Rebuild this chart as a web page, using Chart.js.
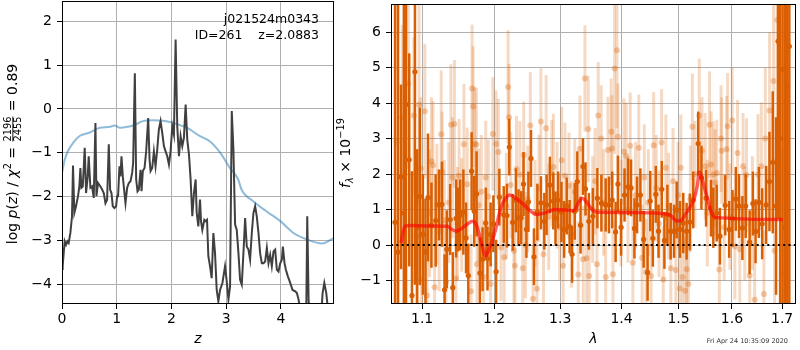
<!DOCTYPE html>
<html>
<head>
<meta charset="utf-8">
<title>j021524m0343 ID 261</title>
<script src="https://cdn.jsdelivr.net/npm/chart.js@4.4.0/dist/chart.umd.min.js"></script>
<style>
  html, body { margin: 0; padding: 0; background: #fff; }
  #wrap { position: relative; width: 800px; height: 350px; overflow: hidden; }
  #pzChart { position: absolute; left: 0; top: 0; }
  #specChart { position: absolute; left: 335px; top: 0; }
</style>
</head>
<body>
<div id="wrap">
  <canvas id="pzChart" width="335" height="350"></canvas>
  <canvas id="specChart" width="465" height="350"></canvas>
</div>
<script>
// ---- p(z) panel ----
var zPz = [0.00, 0.012, 0.031, 0.049, 0.073, 0.098, 0.122, 0.153, 0.183, 0.201,
    0.226, 0.256, 0.293, 0.317, 0.336, 0.354, 0.379, 0.397, 0.415, 0.440,
    0.470, 0.488, 0.519, 0.549, 0.580, 0.611, 0.629, 0.659, 0.702, 0.733,
    0.763, 0.794, 0.824, 0.855, 0.879, 0.904, 0.928, 0.958, 0.989, 1.007,
    1.025, 1.050, 1.068, 1.087, 1.111, 1.129, 1.160, 1.190, 1.221, 1.252,
    1.282, 1.300, 1.331, 1.355, 1.380, 1.404, 1.435, 1.453, 1.477, 1.508,
    1.538, 1.575, 1.600, 1.618, 1.648, 1.679, 1.709, 1.740, 1.770, 1.801,
    1.832, 1.862, 1.893, 1.923, 1.954, 1.984, 2.015, 2.045, 2.076, 2.106,
    2.137, 2.167, 2.198, 2.228, 2.259, 2.289, 2.320, 2.350, 2.381, 2.411,
    2.442, 2.461, 2.491, 2.522, 2.540, 2.564, 2.601, 2.625, 2.650, 2.674,
    2.705, 2.735, 2.766, 2.796, 2.827, 2.857, 2.888, 2.931, 2.979, 3.010,
    3.041, 3.071, 3.102, 3.132, 3.163, 3.193, 3.224, 3.254, 3.285, 3.315,
    3.346, 3.376, 3.407, 3.437, 3.468, 3.498, 3.529, 3.559, 3.590, 3.620,
    3.651, 3.682, 3.712, 3.743, 3.773, 3.804, 3.834, 3.865, 3.895, 3.926,
    3.956, 3.987, 4.017, 4.036, 4.066, 4.091, 4.127, 4.170, 4.213, 4.262,
    4.292, 4.323, 4.371, 4.432, 4.463, 4.481, 4.506, 4.536, 4.628, 4.719,
    4.762, 4.793, 4.829, 4.872, 4.970];
var logPz = [-3.65, -3.59, -3.29, -3.02, -3.10, -3.02, -3.06, -2.83, -2.45, -1.29,
    -2.37, -2.22, -1.99, -1.77, -1.35, -1.80, -1.77, -1.35, -0.89, -1.92,
    -1.54, -1.08, -1.80, -1.77, -2.03, -0.32, -1.99, -1.69, -1.77, -1.84,
    -1.92, -2.15, -2.07, -0.81, -1.84, -1.92, -2.22, -2.26, -2.22, -1.99,
    -1.99, -1.31, -1.54, -1.08, -1.54, -1.77, -2.15, -1.80, -1.69, -1.65,
    -1.46, -1.23, 0.81, -1.61, -1.88, -1.84, -1.39, -1.88, -1.42, -1.35,
    -0.97, -0.21, -1.16, -1.42, -1.35, -0.97, -1.31, -0.93, -0.47, -0.28,
    -0.55, -0.85, -0.97, -1.08, -1.27, -0.97, -0.40, -0.59, 1.58, -0.40,
    -1.08, -0.62, -0.85, -0.66, 0.10, -0.70, -1.04, -1.61, -2.45, -1.92,
    -1.61, -2.37, -2.68, -2.07, -2.56, -2.76, -2.53, -2.56, -2.53, -3.36,
    -3.59, -3.86, -2.83, -3.29, -4.13, -4.39, -4.13, -3.97, -3.59, -3.93,
    -4.35, -4.05, -0.05, -0.93, -2.64, -2.76, -3.29, -3.90, -4.01, -3.29,
    -2.49, -3.14, -3.21, -3.44, -2.83, -2.37, -2.22, -2.45, -2.83, -3.29,
    -3.52, -3.52, -3.48, -3.17, -3.52, -3.33, -3.59, -3.25, -3.21, -3.67,
    -3.71, -3.52, -3.44, -3.14, -3.52, -3.67, -3.82, -3.97, -4.13, -4.16,
    -4.20, -4.35, -4.73, -4.81, -4.66, -2.45, -4.35, -5.11, -5.50, -5.04,
    -4.20, -3.97, -4.20, -4.73, -5.10];
// scaled chi2 curve
var zChi = [0.00, 0.05, 0.11, 0.20, 0.32, 0.51, 0.69, 0.87, 0.96, 1.06,
    1.20, 1.30, 1.48, 1.67, 1.85, 2.03, 2.28, 2.52, 2.70, 2.89,
    3.07, 3.22, 3.28, 3.50, 3.74, 3.99, 4.23, 4.48, 4.75, 4.97];
var chiCurve = [-1.46, -1.16, -0.96, -0.78, -0.62, -0.54, -0.43, -0.41, -0.38, -0.43,
    -0.41, -0.38, -0.28, -0.26, -0.27, -0.32, -0.43, -0.62, -0.74, -1.00,
    -1.35, -1.61, -1.84, -2.11, -2.34, -2.56, -2.83, -2.98, -3.07, -2.94];
var zTicks = [0, 1, 2, 3, 4];
var pzTicks = [-4, -3, -2, -1, 0, 1, 2];

// ---- 1D spectrum panel ----
// first beam (dark)
var waveA = [1.0646, 1.0685, 1.0723, 1.0760, 1.0788, 1.0830, 1.0866, 1.0905, 1.0935, 1.0969,
    1.1010, 1.1045, 1.1079, 1.1125, 1.1182, 1.1227, 1.1267, 1.1303, 1.1334, 1.1380,
    1.1416, 1.1463, 1.1490, 1.1518, 1.1563, 1.1600, 1.1632, 1.1679, 1.1716, 1.1749,
    1.1796, 1.1834, 1.1881, 1.1905, 1.1950, 1.1990, 1.2030, 1.2077, 1.2141, 1.2189,
    1.2223, 1.2273, 1.2321, 1.2360, 1.2400, 1.2435, 1.2479, 1.2509, 1.2548, 1.2593,
    1.2645, 1.2700, 1.2752, 1.2787, 1.2838, 1.2891, 1.2925, 1.2967, 1.3019, 1.3061,
    1.3102, 1.3148, 1.3187, 1.3230, 1.3271, 1.3323, 1.3362, 1.3403, 1.3458, 1.3523,
    1.3597, 1.3663, 1.3734, 1.3789, 1.3843, 1.3900, 1.3939, 1.3993, 1.4051, 1.4111,
    1.4162, 1.4220, 1.4265, 1.4323, 1.4379, 1.4448, 1.4495, 1.4540, 1.4592, 1.4640,
    1.4698, 1.4745, 1.4798, 1.4857, 1.4918, 1.4965, 1.5026, 1.5085, 1.5146, 1.5206,
    1.5267, 1.5360, 1.5420, 1.5507, 1.5599, 1.5643, 1.5707, 1.5769, 1.5870, 1.5946,
    1.6010, 1.6074, 1.6137, 1.6203, 1.6268, 1.6345, 1.6410, 1.6463, 1.6529, 1.6595,
    1.6675, 1.6742, 1.6809, 1.6876, 1.6917, 1.6960, 1.7010, 1.7060, 1.7101, 1.7149];
var fluxA = [0.64, -0.20, 1.92, 0.90, 3.96, 2.40, -1.42, 4.88, 0.50, 1.37,
    0.30, -0.19, 1.34, 0.56, 0.69, 1.13, 1.15, -1.26, -0.12, 0.72,
    -1.20, 0.75, 0.72, 0.85, 0.93, 0.20, -0.86, 2.08, 0.95, 1.44,
    -0.79, -0.40, 0.62, -0.38, 0.30, 0.60, -0.75, 1.35, 0.86, 0.83,
    2.76, 0.64, 1.26, 0.77, 0.77, 1.72, 0.44, 1.22, 2.44, -0.33,
    0.93, 1.19, 0.67, 1.13, 1.69, 1.24, 0.76, 1.27, 0.93, 0.44,
    1.10, 0.52, -0.26, 0.95, 1.79, 0.56, 2.21, 1.58, 0.67, 0.81,
    1.32, 1.18, 1.13, 1.13, 1.27, 0.37, 1.72, 0.50, 1.41, 1.64,
    1.61, 0.47, 1.13, 1.41, 0.16, -0.77, 1.24, 0.19, 1.43, 0.39,
    1.57, 0.13, 0.85, 0.39, 0.39, 0.99, 0.44, 0.62, 0.39, 0.65,
    1.27, 2.86, 1.90, 1.32, 1.04, 0.77, 0.90, 0.25, 1.12, 0.44,
    0.75, 1.30, 1.10, 0.48, 1.10, 0.08, 1.17, 0.39, 1.20, 0.60,
    1.13, 1.79, 2.33, 1.10, 5.74, 3.00, 4.95, 0.50, 4.44, 5.60];
var errA = [8.0, 9.0, 2.6, 7.0, 6.0, 3.0, 3.5, 6.0, 2.2, 2.5,
    1.7, 1.5, 1.8, 1.2, 1.3, 1.0, 1.2, 1.0, 1.1, 1.0,
    1.0, 1.1, 0.9, 1.0, 1.2, 1.0, 0.9, 1.1, 1.0, 1.2,
    1.0, 0.9, 1.0, 0.9, 0.9, 0.8, 0.9, 0.8, 0.8, 0.9,
    0.8, 0.8, 0.9, 0.8, 0.75, 0.9, 0.8, 0.85, 0.8, 0.8,
    0.8, 0.75, 0.8, 0.85, 0.8, 0.8, 0.75, 0.8, 0.85, 0.8,
    0.8, 0.75, 0.8, 0.8, 0.85, 0.8, 0.8, 0.75, 0.8, 0.8,
    0.85, 0.8, 0.75, 0.8, 0.8, 0.85, 0.8, 0.8, 0.75, 0.8,
    0.8, 0.85, 0.8, 0.75, 0.8, 0.8, 0.85, 0.8, 0.8, 0.75,
    0.8, 0.8, 0.85, 0.8, 0.75, 0.8, 0.8, 0.85, 0.8, 0.8,
    0.8, 0.9, 0.9, 0.8, 0.8, 0.85, 0.8, 0.8, 0.85, 0.8,
    0.8, 0.9, 0.9, 0.9, 0.9, 0.9, 0.9, 0.9, 1.0, 1.0,
    1.1, 1.4, 2.0, 2.5, 5.0, 8.0, 7.0, 9.0, 8.0, 9.0];
// second beam (faint)
var waveB = [1.0667, 1.0740, 1.0817, 1.0891, 1.0926, 1.0960, 1.0983, 1.0992, 1.1036, 1.1066,
    1.1100, 1.1125, 1.1146, 1.1168, 1.1199, 1.1230, 1.1257, 1.1270, 1.1300, 1.1323,
    1.1360, 1.1390, 1.1412, 1.1439, 1.1458, 1.1480, 1.1503, 1.1539, 1.1571, 1.1616,
    1.1671, 1.1685, 1.1700, 1.1723, 1.1746, 1.1755, 1.1778, 1.1816, 1.1850, 1.1880,
    1.1918, 1.1950, 1.1983, 1.2030, 1.2062, 1.2100, 1.2148, 1.2180, 1.2205, 1.2220,
    1.2244, 1.2292, 1.2307, 1.2331, 1.2380, 1.2424, 1.2439, 1.2464, 1.2500, 1.2538,
    1.2579, 1.2610, 1.2639, 1.2670, 1.2699, 1.2739, 1.2780, 1.2820, 1.2867, 1.2892,
    1.2950, 1.2990, 1.3023, 1.3045, 1.3075, 1.3138, 1.3180, 1.3230, 1.3286, 1.3313,
    1.3366, 1.3394, 1.3421, 1.3447, 1.3463, 1.3520, 1.3560, 1.3590, 1.3611, 1.3660,
    1.3700, 1.3734, 1.3772, 1.3826, 1.3838, 1.3855, 1.3883, 1.3922, 1.3939, 1.3990,
    1.4040, 1.4079, 1.4110, 1.4147, 1.4193, 1.4240, 1.4295, 1.4352, 1.4390, 1.4421,
    1.4460, 1.4508, 1.4555, 1.4600, 1.4650, 1.4695, 1.4725, 1.4771, 1.4820, 1.4860,
    1.4900, 1.4950, 1.4990, 1.5022, 1.5040, 1.5070, 1.5119, 1.5148, 1.5179, 1.5215,
    1.5252, 1.5300, 1.5380, 1.5430, 1.5491, 1.5530, 1.5571, 1.5602, 1.5645, 1.5677,
    1.5708, 1.5757, 1.5789, 1.5802, 1.5850, 1.5897, 1.5916, 1.5960, 1.6004, 1.6056,
    1.6108, 1.6152, 1.6216, 1.6250, 1.6283, 1.6347, 1.6400, 1.6445, 1.6511, 1.6578,
    1.6630, 1.6658, 1.6744, 1.6825, 1.6845, 1.6900, 1.6993];
var fluxB = [2.90, 3.60, 4.55, 3.65, 0.25, 3.95, 2.16, -0.98, 3.77, -1.42,
    0.90, 2.36, 2.25, -1.19, 1.15, 0.40, 3.12, 2.06, 0.70, -1.04,
    1.20, 3.39, 1.90, 3.41, -0.94, 0.60, 1.95, 0.85, 2.84, 1.71,
    -1.30, 4.41, 3.90, 2.85, 2.83, -0.54, 1.12, 1.50, -0.90, 1.90,
    1.37, -1.10, 3.13, 2.85, 2.62, -0.07, -0.34, 1.10, 4.45, 3.60,
    1.69, -0.16, -0.58, 2.14, 1.99, -0.65, 2.54, 0.00, 1.30, 3.37,
    -1.51, 0.90, -1.23, 1.60, 3.48, -0.26, 3.29, 0.80, 2.02, 2.20,
    1.40, 0.50, 2.39, -0.58, 1.95, 1.67, 0.30, 1.50, -0.83, 2.71,
    -0.40, 4.69, -0.37, 3.27, -0.87, 1.00, 1.80, -0.54, 3.65, 3.00,
    1.20, -0.90, 2.68, 3.19, 2.72, -0.82, 4.97, 5.49, 3.05, 0.90,
    2.63, 2.51, 1.00, 2.80, -0.50, 1.40, 2.74, -0.36, 1.90, -0.76,
    1.20, -0.87, 2.81, 1.60, 0.60, 2.89, -0.97, 2.18, 1.10, -0.65,
    1.80, -0.70, 1.40, -1.22, 2.18, -0.90, -1.29, -0.68, -1.10, 1.30,
    3.33, 2.00, 3.65, 2.66, 2.22, 0.90, 3.39, 2.27, 1.99, 1.76,
    2.03, -0.69, 3.00, 2.66, 0.50, 2.70, 3.35, 0.80, 3.51, -0.03,
    2.59, -0.12, 2.22, 0.60, 1.97, -0.86, 0.90, -1.54, 1.99, 2.22,
    -1.38, 3.00, 3.79, 4.62, -0.16, 6.34, -0.81];
var errB = [4.5, 2.6, 2.4, 2.2, 2.0, 2.8, 2.0, 2.0, 1.9, 1.8,
    1.8, 1.8, 1.8, 1.7, 1.7, 1.7, 1.8, 1.7, 1.7, 1.7,
    1.7, 1.7, 1.7, 1.8, 1.7, 1.6, 1.6, 1.6, 1.7, 1.6,
    1.6, 1.8, 1.7, 1.6, 1.6, 1.6, 1.6, 1.6, 1.6, 1.6,
    1.6, 1.6, 1.6, 1.5, 1.5, 1.5, 1.5, 1.5, 1.6, 1.5,
    1.5, 1.5, 1.5, 1.5, 1.5, 1.5, 1.5, 1.5, 1.5, 1.5,
    1.5, 1.5, 1.5, 1.5, 1.5, 1.5, 1.5, 1.5, 1.5, 1.5,
    1.5, 1.5, 1.5, 1.5, 1.5, 1.5, 1.5, 1.5, 1.5, 1.5,
    1.5, 1.5, 1.5, 1.5, 1.5, 1.5, 1.5, 1.5, 1.5, 1.5,
    1.5, 1.5, 1.5, 1.5, 1.5, 1.5, 2.4, 2.2, 1.5, 1.5,
    1.5, 1.5, 1.5, 1.5, 1.5, 1.5, 1.5, 1.5, 1.5, 1.5,
    1.5, 1.5, 1.5, 1.5, 1.5, 1.5, 1.5, 1.5, 1.5, 1.5,
    1.5, 1.5, 1.5, 1.5, 1.5, 1.5, 1.5, 1.5, 1.5, 1.5,
    1.5, 1.5, 1.6, 1.5, 1.5, 1.5, 1.5, 1.5, 1.5, 1.5,
    1.5, 1.5, 1.5, 1.5, 1.5, 1.5, 1.5, 1.5, 1.5, 1.5,
    1.5, 1.5, 1.5, 1.6, 1.6, 1.6, 1.6, 1.6, 1.7, 1.8,
    1.8, 2.0, 2.2, 2.6, 2.6, 3.0, 3.5];
// best-fit template
var waveModel = [1.0723, 1.0774, 1.0839, 1.1101, 1.1345, 1.1394, 1.1463, 1.1528, 1.1612, 1.1693,
    1.1750, 1.1806, 1.1881, 1.1918, 1.1963, 1.2030, 1.2099, 1.2170, 1.2228, 1.2321,
    1.2415, 1.2514, 1.2637, 1.2741, 1.2925, 1.3131, 1.3212, 1.3290, 1.3354, 1.3418,
    1.3500, 1.3575, 1.4105, 1.4745, 1.4857, 1.4966, 1.5040, 1.5115, 1.5182, 1.5275,
    1.5341, 1.5384, 1.5451, 1.5525, 1.5599, 1.5681, 1.7013];
var fluxModel = [0.06, 0.53, 0.55, 0.54, 0.53, 0.45, 0.39, 0.45, 0.58, 0.67,
    0.55, 0.15, -0.31, -0.15, 0.05, 0.50, 1.05, 1.32, 1.41, 1.32,
    1.18, 1.00, 0.86, 0.90, 1.00, 0.98, 0.97, 1.20, 1.32, 1.22,
    1.02, 0.93, 0.92, 0.88, 0.83, 0.68, 0.69, 0.85, 1.00, 1.27,
    1.65, 2.06, 1.75, 1.35, 0.95, 0.78, 0.72];
var waveTicks = [1.1, 1.2, 1.3, 1.4, 1.5, 1.6, 1.7];
var fluxTicks = [-1, 0, 1, 2, 3, 4, 5, 6];

var fieldName = 'j021524m0343';
var objectId = 261;
var zBest = 2.0883;
var chiNum = 2196;
var chiDen = 2455;
var stamp = 'Fri Apr 24 10:35:09 2020';

var DARK = 'rgb(217,95,2)';
var LIGHT = 'rgba(217,95,2,0.24)';
var LIGHT_DOT = 'rgba(217,95,2,0.32)';
var FONT = '"DejaVu Sans"';

Chart.defaults.font.family = FONT;
Chart.defaults.color = '#000';

function toPoints(xs, ys) {
    var out = [];
    for (var i = 0; i < xs.length; i++) {
        out.push({ x: xs[i], y: ys[i] });
    }
    return out;
}

function toErrorBars(xs, ys, es) {
    var out = [];
    for (var i = 0; i < xs.length; i++) {
        out.push({ x: xs[i], y: [ys[i] - es[i], ys[i] + es[i]] });
    }
    return out;
}

function fmtTick(v) {
    return v < 0 ? '\u2212' + Math.abs(v) : String(v);
}

function makeAxis(o) {
    return {
        type: o.type || 'linear',
        min: o.min,
        max: o.max,
        offset: false,
        afterBuildTicks: function (axis) {
            axis.ticks = o.ticks.map(function (v) { return { value: v }; });
        },
        afterFit: function (axis) {
            if (axis.isHorizontal()) {
                axis.height = o.size;
            } else {
                axis.width = o.size;
            }
            axis.paddingLeft = 0;
            axis.paddingRight = 0;
            axis.paddingTop = 0;
            axis.paddingBottom = 0;
        },
        ticks: {
            color: '#000',
            font: { size: 14 },
            padding: o.title ? 2 : 5,
            autoSkip: false,
            maxRotation: 0,
            callback: o.format || fmtTick
        },
        grid: {
            offset: false,
            color: '#b0b0b0',
            lineWidth: 1,
            tickColor: '#000',
            tickLength: 5,
            tickWidth: 1
        },
        border: { display: false },
        title: o.title ? {
            display: true,
            text: o.title,
            color: '#000',
            font: { size: 14, style: 'italic' },
            padding: { top: 0, bottom: 2 }
        } : { display: false }
    };
}

// text laid out along a rotated baseline, pieces may be shifted or stacked
function drawRotatedLabel(ctx, pieces, x, y) {
    ctx.save();
    ctx.translate(x, y);
    ctx.rotate(-Math.PI / 2);
    ctx.fillStyle = '#000';
    ctx.textBaseline = 'alphabetic';
    var total = 0;
    pieces.forEach(function (p) {
        ctx.font = p.font;
        if (p.frac) {
            p.w = Math.max(ctx.measureText(p.frac[0]).width, ctx.measureText(p.frac[1]).width) + 2;
        } else {
            p.w = ctx.measureText(p.text).width;
        }
        total += p.w;
    });
    var u = -total / 2;
    pieces.forEach(function (p) {
        ctx.font = p.font;
        if (p.frac) {
            ctx.textAlign = 'center';
            ctx.fillText(p.frac[0], u + p.w / 2, -5.8);
            ctx.fillText(p.frac[1], u + p.w / 2, 3.8);
            ctx.fillRect(u + 1, -4.6, p.w - 2, 0.9);
        } else {
            ctx.textAlign = 'left';
            ctx.fillText(p.text, u, p.dy || 0);
        }
        u += p.w;
    });
    ctx.restore();
}

var framePlugin = {
    id: 'frame',
    afterDatasetsDraw: function (chart) {
        var a = chart.chartArea;
        var ctx = chart.ctx;
        ctx.save();
        ctx.strokeStyle = '#000';
        ctx.lineWidth = 1;
        ctx.strokeRect(a.left + 0.5, a.top + 0.5, a.right - a.left - 1, a.bottom - a.top - 1);
        ctx.restore();
    }
};

var pzText = {
    id: 'pzText',
    afterDraw: function (chart) {
        var ctx = chart.ctx;
        var a = chart.chartArea;
        ctx.save();
        ctx.fillStyle = '#000';
        ctx.textAlign = 'right';
        ctx.textBaseline = 'alphabetic';
        ctx.font = '12.5px ' + FONT;
        ctx.fillText(fieldName, a.right - 15, 23);
        ctx.fillText('ID=' + objectId + '    z=' + zBest.toFixed(4), a.right - 15, 38.5);
        ctx.restore();

        var big = '14px ' + FONT;
        var bigIt = 'italic 14px ' + FONT;
        var small = '9.8px ' + FONT;
        drawRotatedLabel(ctx, [
            { text: 'log ', font: big },
            { text: 'p', font: bigIt },
            { text: '(', font: big },
            { text: 'z', font: bigIt },
            { text: ') / ', font: big },
            { text: '\u03c7', font: bigIt },
            { text: '2', font: small, dy: -6 },
            { text: ' = ', font: big },
            { frac: [String(chiNum), String(chiDen)], font: small },
            { text: ' = ' + (chiNum / chiDen).toFixed(2), font: big }
        ], 17, 154);
    }
};

var specText = {
    id: 'specText',
    beforeDatasetDraw: function (chart, args) {
        // dotted zero level sits just under the template
        if (args.index !== 0) { return; }
        var a = chart.chartArea;
        var y0 = chart.scales.y.getPixelForValue(0);
        var ctx = chart.ctx;
        ctx.save();
        ctx.strokeStyle = '#000';
        ctx.lineWidth = 2;
        ctx.setLineDash([2, 3.3]);
        ctx.beginPath();
        ctx.moveTo(a.left, y0);
        ctx.lineTo(a.right, y0);
        ctx.stroke();
        ctx.restore();
    },
    afterDraw: function (chart) {
        var ctx = chart.ctx;
        var big = '14px ' + FONT;
        var bigIt = 'italic 14px ' + FONT;
        drawRotatedLabel(ctx, [
            { text: 'f', font: bigIt },
            { text: '\u03bb', font: 'italic 9.8px ' + FONT, dy: 3 },
            { text: ' \u00d7 10', font: big },
            { text: '\u221219', font: '9.8px ' + FONT, dy: -6 }
        ], 15, 153);

        ctx.save();
        ctx.fillStyle = '#333';
        ctx.textAlign = 'right';
        ctx.textBaseline = 'alphabetic';
        ctx.font = '6.5px ' + FONT;
        ctx.fillText(stamp, 453, 343);
        ctx.restore();
    }
};

var pzChart = new Chart(document.getElementById('pzChart'), {
    type: 'scatter',
    data: {
        datasets: [{
            type: 'line',
            data: toPoints(zPz, logPz),
            borderColor: '#404040',
            borderWidth: 2,
            pointRadius: 0,
            tension: 0
        }, {
            type: 'line',
            data: toPoints(zChi, chiCurve),
            borderColor: 'rgba(31,119,180,0.5)',
            borderWidth: 2,
            pointRadius: 0,
            cubicInterpolationMode: 'monotone'
        }]
    },
    options: {
        responsive: false,
        animation: false,
        events: [],
        layout: { padding: { left: 0, right: 1, top: 1, bottom: 0 } },
        plugins: { legend: { display: false }, tooltip: { enabled: false } },
        scales: {
            x: makeAxis({ min: 0, max: 4.97, ticks: zTicks, size: 46, title: 'z' }),
            y: makeAxis({ min: -4.45, max: 2.46, ticks: pzTicks, size: 62 })
        }
    },
    plugins: [framePlugin, pzText]
});

var specChart = new Chart(document.getElementById('specChart'), {
    type: 'scatter',
    data: {
        datasets: [{
            type: 'line',
            data: toPoints(waveModel, fluxModel),
            borderColor: 'rgba(255,0,0,0.62)',
            borderWidth: 3.5,
            pointRadius: 0,
            cubicInterpolationMode: 'monotone'
        }, {
            type: 'scatter',
            data: toPoints(waveA, fluxA),
            backgroundColor: DARK,
            borderWidth: 0,
            pointRadius: 2.6
        }, {
            type: 'bar',
            data: toErrorBars(waveA, fluxA, errA),
            backgroundColor: DARK,
            borderWidth: 0,
            inflateAmount: 0,
            barThickness: 2.5,
            grouped: false
        }, {
            type: 'scatter',
            data: toPoints(waveB, fluxB),
            backgroundColor: LIGHT_DOT,
            borderWidth: 0,
            pointRadius: 3
        }, {
            type: 'bar',
            data: toErrorBars(waveB, fluxB, errB),
            backgroundColor: LIGHT,
            borderWidth: 0,
            inflateAmount: 0,
            barThickness: 3,
            grouped: false
        }]
    },
    options: {
        responsive: false,
        animation: false,
        events: [],
        layout: { padding: { left: 0, right: 1, top: 1, bottom: 0 } },
        plugins: { legend: { display: false }, tooltip: { enabled: false } },
        scales: {
            x: makeAxis({
                type: 'logarithmic', min: 1.0594, max: 1.7288, ticks: waveTicks, size: 46, title: '\u03bb',
                format: function (v) { return Number(v).toFixed(1); }
            }),
            y: makeAxis({ min: -1.66, max: 6.79, ticks: fluxTicks, size: 56 })
        }
    },
    plugins: [framePlugin, specText]
});
</script>
</body>
</html>
